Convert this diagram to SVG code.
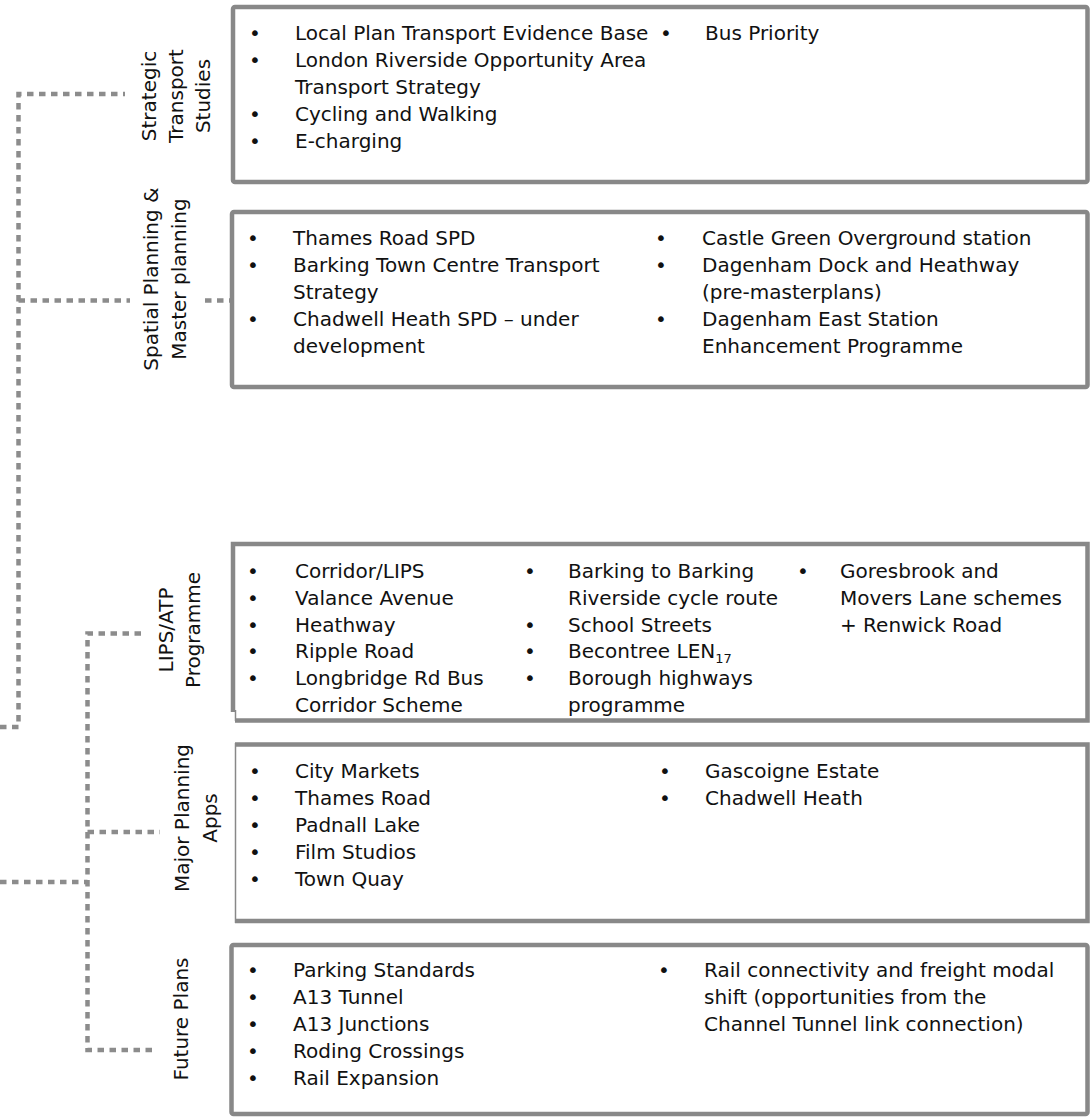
<svg xmlns="http://www.w3.org/2000/svg" width="1092" height="1118" viewBox="0 0 1092 1118">
<style>
.box{fill:#fff;stroke:#888;stroke-width:4.5}
.edge{fill:none;stroke:#888;stroke-width:4.5}
.thin{fill:none;stroke:#888;stroke-width:1.5}
.conn{fill:none;stroke:#8c8c8c;stroke-width:4.5;stroke-dasharray:6.5 5.5}
text{font-family:"DejaVu Sans","Verdana",sans-serif;font-size:20px;fill:#111}
.lbl{text-anchor:middle}
.sub{font-size:13px}
</style>
<rect width="1092" height="1118" fill="#fff"/>
<g id="connectors">
<path class="conn" d="M0,727 H18.5 V94 H125"/>
<path class="conn" d="M18.5,300.5 H130"/>
<path class="conn" d="M205,300.5 H230"/>
<path class="conn" d="M0,882 H87.5"/>
<path class="conn" d="M141,633.5 H87.5 V1050 H155"/>
<path class="conn" d="M87.5,832 H160"/>
</g>
<g id="strategic">
<rect class="box" x="233" y="7" width="854.5" height="175" rx="2"/>
<text class="lbl" transform="translate(0,96) rotate(-90)"><tspan x="0" y="156">Strategic</tspan><tspan x="0" y="183">Transport</tspan><tspan x="0" y="210">Studies</tspan></text>
<text x="249" y="40">•</text><text x="295" y="40">Local Plan Transport Evidence Base</text>
<text x="249" y="67">•</text><text x="295" y="67">London Riverside Opportunity Area</text>
<text x="295" y="94">Transport Strategy</text>
<text x="249" y="121">•</text><text x="295" y="121">Cycling and Walking</text>
<text x="249" y="148">•</text><text x="295" y="148">E-charging</text>
<text x="660" y="40">•</text><text x="705" y="40">Bus Priority</text>
</g>
<g id="spatial">
<rect class="box" x="232" y="212" width="855.5" height="175" rx="2"/>
<text class="lbl" transform="translate(0,279) rotate(-90)"><tspan x="0" y="158">Spatial Planning &amp;</tspan><tspan x="0" y="186">Master planning</tspan></text>
<text x="247" y="245">•</text><text x="293" y="245">Thames Road SPD</text>
<text x="247" y="272">•</text><text x="293" y="272">Barking Town Centre Transport</text>
<text x="293" y="299">Strategy</text>
<text x="247" y="326">•</text><text x="293" y="326">Chadwell Heath SPD – under</text>
<text x="293" y="353">development</text>
<text x="655" y="245">•</text><text x="702" y="245">Castle Green Overground station</text>
<text x="655" y="272">•</text><text x="702" y="272">Dagenham Dock and Heathway</text>
<text x="702" y="299">(pre-masterplans)</text>
<text x="655" y="326">•</text><text x="702" y="326">Dagenham East Station</text>
<text x="702" y="353">Enhancement Programme</text>
</g>
<g id="lips">
<rect x="233" y="544" width="854.5" height="176.5" fill="#fff"/>
<path class="edge" d="M233,712 V544 H1087.5 V720.5 H235"/>
<path class="thin" d="M235.5,710 V721"/>
<text class="lbl" transform="translate(0,630) rotate(-90)"><tspan x="0" y="173">LIPS/ATP</tspan><tspan x="0" y="200">Programme</tspan></text>
<text x="247" y="578">•</text><text x="295" y="578">Corridor/LIPS</text>
<text x="247" y="605">•</text><text x="295" y="605">Valance Avenue</text>
<text x="247" y="632">•</text><text x="295" y="632">Heathway</text>
<text x="247" y="658">•</text><text x="295" y="658">Ripple Road</text>
<text x="247" y="685">•</text><text x="295" y="685">Longbridge Rd Bus</text>
<text x="295" y="712">Corridor Scheme</text>
<text x="524" y="578">•</text><text x="568" y="578">Barking to Barking</text>
<text x="568" y="605">Riverside cycle route</text>
<text x="524" y="632">•</text><text x="568" y="632">School Streets</text>
<text x="524" y="658">•</text><text x="568" y="658">Becontree LEN<tspan class="sub" dy="4.5">17</tspan></text>
<text x="524" y="685">•</text><text x="568" y="685">Borough highways</text>
<text x="568" y="712">programme</text>
<text x="797" y="578">•</text><text x="840" y="578">Goresbrook and</text>
<text x="840" y="605">Movers Lane schemes</text>
<text x="840" y="632">+ Renwick Road</text>
</g>
<g id="major">
<rect x="235" y="744.5" width="852.5" height="176.5" fill="#fff"/>
<path class="edge" d="M235,744.5 H1087.5 V921 H235"/>
<path class="thin" d="M235.5,743 V923"/>
<text class="lbl" transform="translate(0,818) rotate(-90)"><tspan x="0" y="189">Major Planning</tspan><tspan x="0" y="217">Apps</tspan></text>
<text x="249" y="778">•</text><text x="295" y="778">City Markets</text>
<text x="249" y="805">•</text><text x="295" y="805">Thames Road</text>
<text x="249" y="832">•</text><text x="295" y="832">Padnall Lake</text>
<text x="249" y="859">•</text><text x="295" y="859">Film Studios</text>
<text x="249" y="886">•</text><text x="295" y="886">Town Quay</text>
<text x="659" y="778">•</text><text x="705" y="778">Gascoigne Estate</text>
<text x="659" y="805">•</text><text x="705" y="805">Chadwell Heath</text>
</g>
<g id="future">
<rect class="box" x="231.5" y="945" width="856" height="169" rx="2"/>
<text class="lbl" transform="translate(0,1019) rotate(-90)"><tspan x="0" y="188">Future Plans</tspan></text>
<text x="247" y="977">•</text><text x="293" y="977">Parking Standards</text>
<text x="247" y="1004">•</text><text x="293" y="1004">A13 Tunnel</text>
<text x="247" y="1031">•</text><text x="293" y="1031">A13 Junctions</text>
<text x="247" y="1058">•</text><text x="293" y="1058">Roding Crossings</text>
<text x="247" y="1085">•</text><text x="293" y="1085">Rail Expansion</text>
<text x="658" y="977">•</text><text x="704" y="977">Rail connectivity and freight modal</text>
<text x="704" y="1004">shift (opportunities from the</text>
<text x="704" y="1031">Channel Tunnel link connection)</text>
</g>
</svg>
